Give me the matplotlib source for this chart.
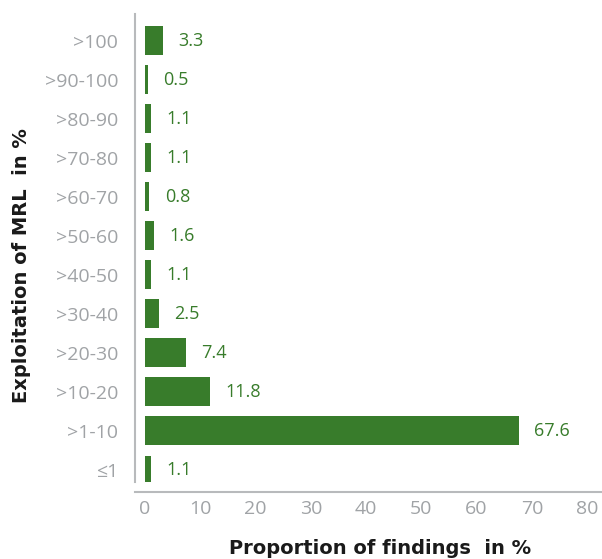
import matplotlib.pyplot as plt
from matplotlib import font_manager

categories = ["≤1", ">1-10", ">10-20", ">20-30", ">30-40", ">40-50",
              ">50-60", ">60-70", ">70-80", ">80-90", ">90-100", ">100"]
values = [1.1, 67.6, 11.8, 7.4, 2.5, 1.1, 1.6, 0.8, 1.1, 1.1, 0.5, 3.3]
xticks = [0, 10, 20, 30, 40, 50, 60, 70, 80]

green = "#387c2b"
gray = "#a0a3a6"

names = {f.name for f in font_manager.fontManager.ttflist}
label_font = "Liberation Sans Narrow" if "Liberation Sans Narrow" in names else "DejaVu Sans"

fig = plt.figure(figsize=(6.02, 5.59), dpi=100)
ax = fig.add_axes([0.2243, 0.1377, 0.7757, 0.8373])

# spine offset first, it resets the tick label properties
for s in ["top", "right"]:
    ax.spines[s].set_visible(False)
ax.spines["bottom"].set_position(("outward", 7))
ax.spines["left"].set_color("#b8babc")
ax.spines["bottom"].set_color("#b8babc")
ax.spines["left"].set_linewidth(1.5)
ax.spines["bottom"].set_linewidth(1.5)

pos = list(range(len(categories)))
ax.barh(pos, values, height=0.74, color=green)

for y, v in zip(pos, values):
    ax.annotate("{:.1f}".format(v), (v, y), textcoords="offset points",
                xytext=(11, 0), ha="left", va="center",
                color=green, fontsize=13, family="Open Sans")

ax.set_xlim(-1.8, 82.7)
ax.set_ylim(-0.31, 11.69)
ax.set_yticks(pos)
ax.set_yticklabels(categories, family=["Open Sans", "DejaVu Sans"], fontsize=14,
                   color=gray)
ax.set_xticks(xticks)
ax.set_xticklabels([str(x) for x in xticks], family="Open Sans", fontsize=14,
                   color=gray)
ax.tick_params(axis="both", length=0)
ax.tick_params(axis="y", pad=12)
ax.tick_params(axis="x", pad=6)

fig.text(0.631, 0.018, "Proportion of findings  in %", ha="center", va="center",
         fontsize=14, fontweight="bold", family=label_font, color="#1a1a1a")
fig.text(0.035, 0.525, "Exploitation of MRL  in %", ha="center", va="center",
         rotation=90, fontsize=14, fontweight="bold", family=label_font, color="#1a1a1a")

fig.savefig("out.png", dpi=100)
